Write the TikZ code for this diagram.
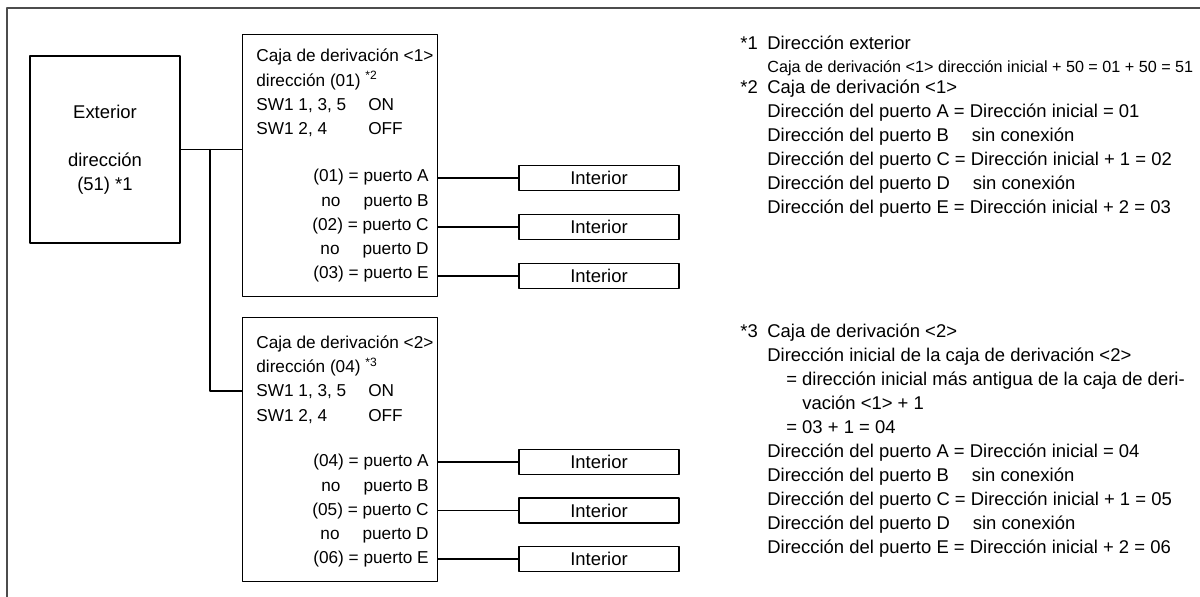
\documentclass[tikz,border=0pt]{standalone}
\usepackage{fontspec}
\setmainfont{Liberation Sans}
\usetikzlibrary{positioning}

\begin{document}
\begin{tikzpicture}[x=0.02cm, y=-0.02cm, line cap=round, line join=round,
	unitbox/.style={draw, line width=0.7pt, inner sep=0pt},
	indoor/.style={draw, line width=0.7pt, inner sep=0pt, minimum width=3.2cm, minimum height=0.5cm, font=\fontsize{10.5}{13.7}\selectfont},
	boxtext/.style={inner sep=0pt, font=\fontsize{9.8}{13.8}\selectfont},
	notetext/.style={anchor=base west, inner sep=0pt, font=\fontsize{10.5}{13.66}\selectfont},
	link/.style={line width=0.6pt}]
		\useasboundingbox (0,0) rectangle (1200,597);
		% frame
		\draw [black!70, line width=1pt] (1200,8) -- (7,8) -- (7,597);
		% outdoor unit
		\node [unitbox, minimum width=3cm, minimum height=3.74cm, align=center, font=\fontsize{10.5}{13.7}\selectfont] (ext) at (105,149.5) {Exterior\\[13.7pt]dirección\\(51) *1};
		% branch boxes
		\node [unitbox, minimum width=3.9cm, minimum height=5.24cm, anchor=north west] (caja1) at (242,34) {};
		\node [unitbox, minimum width=3.9cm, minimum height=5.28cm, anchor=north west] (caja2) at (242,317) {};
		\node [boxtext, anchor=base west] (info1) at (256,62) {\begin{tabular}[t]{@{}l@{}}Caja de derivación <1>\\dirección (01) \textsuperscript{*2}\\\makebox[2.24cm][l]{SW1 1, 3, 5}ON\\\makebox[2.24cm][l]{SW1 2, 4}OFF\end{tabular}};
		\node [boxtext, anchor=base east] (ports1) at (429,182) {\begin{tabular}[t]{@{}r@{}}(01) = puerto A\\no\hspace{0.46cm}puerto B\\(02) = puerto C\\no\hspace{0.46cm}puerto D\\(03) = puerto E\end{tabular}};
		\node [boxtext, anchor=base west] (info2) at (256,348.5) {\begin{tabular}[t]{@{}l@{}}Caja de derivación <2>\\dirección (04) \textsuperscript{*3}\\\makebox[2.24cm][l]{SW1 1, 3, 5}ON\\\makebox[2.24cm][l]{SW1 2, 4}OFF\end{tabular}};
		\node [boxtext, anchor=base east] (ports2) at (429,467) {\begin{tabular}[t]{@{}r@{}}(04) = puerto A\\no\hspace{0.46cm}puerto B\\(05) = puerto C\\no\hspace{0.46cm}puerto D\\(06) = puerto E\end{tabular}};
		% indoor units
		\node [indoor] (in1a) at (599,178) {Interior};
		\node [indoor] (in1c) at (599,227) {Interior};
		\node [indoor] (in1e) at (599,276) {Interior};
		\node [indoor] (in2a) at (599,462) {Interior};
		\node [indoor] (in2c) at (599,510.5) {Interior};
		\node [indoor] (in2e) at (599,559) {Interior};
		% wiring
		\coordinate (split) at (210,149.5);
		\coordinate (tap2) at (242,391);
		\draw [link] (ext.east) -- (ext.east -| caja1.west);
		\draw [link] (split) |- (tap2);
		\draw [link] (in1a -| caja1.east) -- (in1a);
		\draw [link] (in1c -| caja1.east) -- (in1c);
		\draw [link] (in1e -| caja1.east) -- (in1e);
		\draw [link] (in2a -| caja2.east) -- (in2a);
		\draw [link] (in2c -| caja2.east) -- (in2c);
		\draw [link] (in2e -| caja2.east) -- (in2e);
		% notes
		\node [notetext] (note12) at (740,50) {\begin{tabular}[t]{@{}p{0.54cm}@{}l@{}}*1&Dirección exterior\\[-0.6pt]
			&{\fontsize{9.2}{11}\selectfont Caja de derivación <1> dirección inicial + 50 = 01 + 50 = 51}\\[-1.7pt]
			*2&Caja de derivación <1>\\
			&Dirección del puerto A = Dirección inicial = 01\\
			&Dirección del puerto B\hspace{0.46cm}sin conexión\\
			&Dirección del puerto C = Dirección inicial + 1 = 02\\
			&Dirección del puerto D\hspace{0.46cm}sin conexión\\
			&Dirección del puerto E = Dirección inicial + 2 = 03\end{tabular}};
		\node [notetext] (note3) at (740,338) {\begin{tabular}[t]{@{}p{0.54cm}@{}l@{}}*3&Caja de derivación <2>\\
			&Dirección inicial de la caja de derivación <2>\\
			&\hspace{0.38cm}= dirección inicial más antigua de la caja de deri-\\
			&\hspace{0.7cm}vación <1> + 1\\
			&\hspace{0.38cm}= 03 + 1 = 04\\
			&Dirección del puerto A = Dirección inicial = 04\\
			&Dirección del puerto B\hspace{0.46cm}sin conexión\\
			&Dirección del puerto C = Dirección inicial + 1 = 05\\
			&Dirección del puerto D\hspace{0.46cm}sin conexión\\
			&Dirección del puerto E = Dirección inicial + 2 = 06\end{tabular}};
	\end{tikzpicture}
\end{document}
